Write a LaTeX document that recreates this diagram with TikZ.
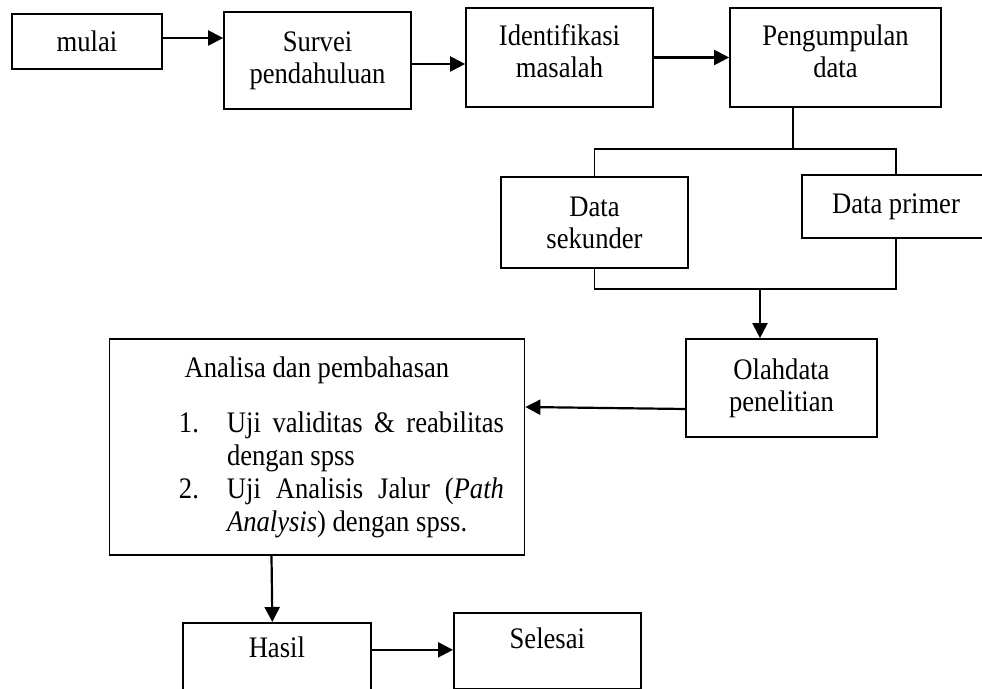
\documentclass[tikz,border=0pt]{standalone}
\usepackage{fontspec}
\setmainfont{Liberation Serif}[FakeStretch=0.893]
\usetikzlibrary{arrows.meta}
\newcounter{ujino}
\newenvironment{ujilist}{\begin{list}{\arabic{ujino}.}{\usecounter{ujino}%
  \setlength\leftmargin{48.5pt}\setlength\labelwidth{24pt}\setlength\labelsep{0pt}%
  \setlength\itemsep{0pt}\setlength\parsep{0pt}\setlength\topsep{0pt}%
  \setlength\partopsep{0pt}\setlength\rightmargin{0pt}%
  \renewcommand\makelabel[1]{##1\hfil}}}{\end{list}}
\begin{document}
\begin{tikzpicture}[x=0.5pt,y=-0.5pt,
    box/.style={draw,line width=0.85pt,align=center,inner sep=0pt,font=\fontsize{14.9}{16}\selectfont},
    arr/.style={line width=1.1pt,-{Triangle[length=7.5pt,width=7.5pt]}},
    link/.style={line width=0.85pt}]
  \useasboundingbox (0,0) rectangle (982,689);
  \clip (0,0) rectangle (982,689);
  % top row
  \node[box,minimum width=75pt,minimum height=27.5pt] (mulai) at (87,41.5) {mulai};
  \node[box,minimum width=93.5pt,minimum height=48.5pt] (survei) at (317.5,60.5) {Survei\\pendahuluan};
  \node[box,minimum width=93.5pt,minimum height=49.5pt,text depth=6pt] (ident) at (559.5,57.5) {Identifikasi\\masalah};
  \node[box,minimum width=105.5pt,minimum height=49.5pt,text depth=6pt] (peng) at (835.5,57.5) {Pengumpulan\\data};
  % data
  \node[box,minimum width=93.5pt,minimum height=45.5pt] (sek) at (594.5,222.5) {Data\\sekunder};
  \node[box,minimum width=94pt,minimum height=31.5pt] (prim) at (896,206.5) {Data primer};
  \node[box,minimum width=95.5pt,minimum height=49pt] (olah) at (781.5,388) {Olahdata\\penelitian};
  % analisa
  \node[box,align=justify,text width=187pt,minimum width=207.5pt,minimum height=108pt,
    font=\fontsize{14.9}{16.5}\selectfont] (analisa) at (317,447)
    {\sloppy\hyphenpenalty=10000
     \centerline{Analisa dan pembahasan}\par\vspace{11pt}
     \begin{ujilist}
       \item Uji validitas \& reabilitas dengan spss
       \item Uji Analisis Jalur (\textit{Path Analysis}) dengan spss.
     \end{ujilist}};
  % bottom row
  \node[box,anchor=north west,minimum width=94pt,text height=17.5pt,text depth=21.5pt] (hasil) at (182,622) {Hasil};
  \node[box,anchor=north west,minimum width=93.5pt,text height=18pt,text depth=20pt] (selesai) at (453,612) {Selesai};
  % connectors
  \draw[arr] ([yshift=1.75pt]mulai.east) -- ([yshift=11.25pt]survei.west);
  \draw[arr] ([yshift=-1.75pt]survei.east) -- ([yshift=-3.25pt]ident.west);
  \draw[arr] (ident) -- (peng);
  \coordinate (split) at (793,149);
  \coordinate (join) at (760,289);
  \draw[link] ([xshift=-21.25pt]peng.south) -- (split);
  \draw[link] (sek.north) -- (sek.north |- split) -- (prim.north |- split) -- (prim.north);
  \draw[link] (sek.south) -- (sek.south |- join) -- (prim.south |- join) -- (prim.south);
  \draw[arr] (join) -- (join |- olah.north);
  \draw[arr] ([yshift=-10.5pt]olah.west) -- ([yshift=20pt]analisa.east);
  \draw[arr] ([xshift=-22.75pt]analisa.south) -- ([xshift=-2.25pt]hasil.north);
  \draw[arr] ([yshift=6pt]hasil.east) -- ([yshift=0.5pt]selesai.west);
\end{tikzpicture}
\end{document}
